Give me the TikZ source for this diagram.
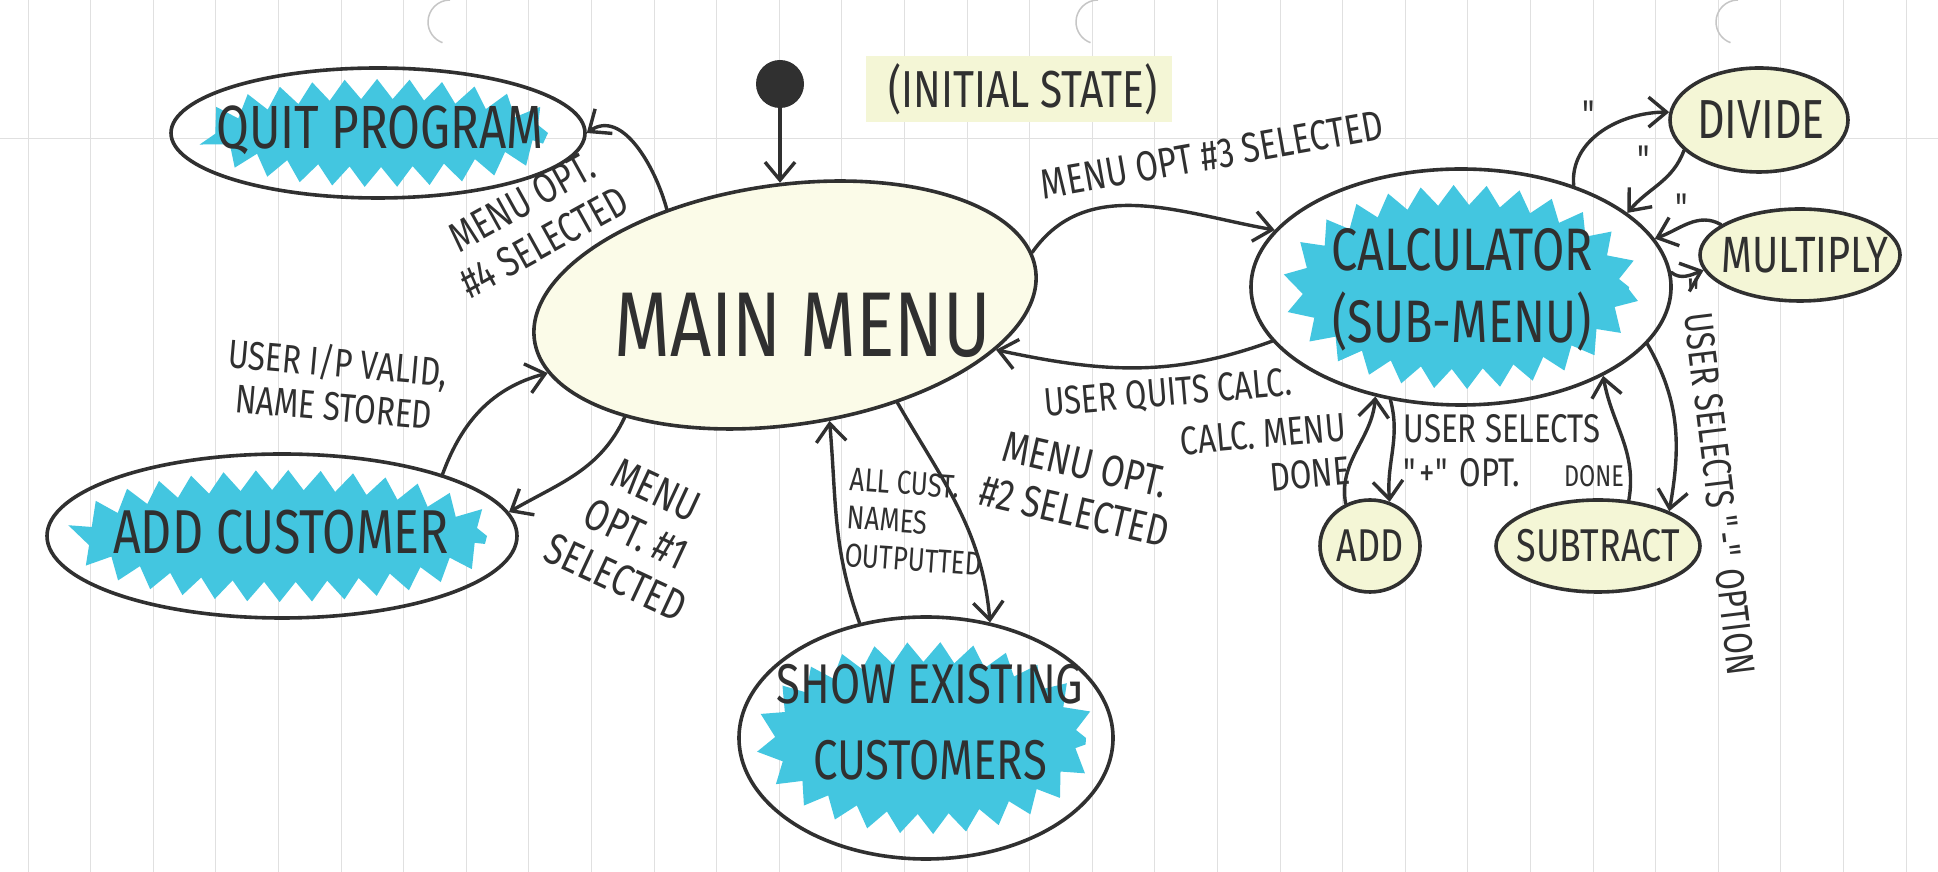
\documentclass[tikz,border=0pt]{standalone}
\usepackage{fontspec}
\newfontfamily\hand[FakeStretch=0.78]{Fira Sans}
\usetikzlibrary{arrows.meta,shapes.geometric,decorations.pathmorphing}
\definecolor{ink}{HTML}{303030}
\definecolor{cyanmark}{HTML}{43C6E0}
\definecolor{yelmark}{HTML}{F4F6D6}
\definecolor{yelpale}{HTML}{FBFBE8}
\definecolor{rulecol}{HTML}{E0E0E0}
\pgfdeclarelayer{paper}\pgfdeclarelayer{bg}
\pgfsetlayers{paper,bg,main}
\begin{document}
\begin{tikzpicture}[x=1pt,y=1pt,
  state/.style={ellipse, draw=ink, line width=3.6pt, inner sep=0pt},
  txt/.style={text=ink, inner sep=0pt, align=center},
  lbl/.style={text=ink, inner sep=0pt, align=center, font=\hand\fontsize{40}{44}\selectfont},
  biglbl/.style={lbl, font=\hand\fontsize{44}{48}\selectfont},
  conn/.style={draw=ink, line width=3.4pt, line cap=round, -{Straight Barb[length=18pt,width=30pt]}},
  zig/.style={fill=cyanmark, decorate, decoration={zigzag, segment length=32pt, amplitude=10pt}}]
\useasboundingbox (0,0) rectangle (1938,872);
\begin{pgfonlayer}{paper}
  \fill[white] (0,0) rectangle (1938,872);
  \foreach \i in {0,...,30} {\draw[rulecol, line width=1pt] (28+62.6*\i,0) -- (28+62.6*\i,872);}
  \draw[rulecol, line width=1pt] (0,733) -- (1938,733);
  \foreach \hx in {450,1098,1738} {\draw[gray!45, line width=1.5pt] (\hx,872) arc[start angle=90, end angle=250, radius=22];}
\end{pgfonlayer}

% states
\node[circle, fill=ink, minimum size=48pt, inner sep=0pt] (init) at (780,788) {};
\node[state, fill=yelpale, minimum width=506pt, minimum height=240pt, rotate=8] (mm) at (785,567) {};
\node[state, minimum width=414pt, minimum height=130pt] (quit) at (378,739) {};
\node[state, minimum width=470pt, minimum height=164pt] (addc) at (282,336) {};
\node[state, minimum width=374pt, minimum height=242pt] (show) at (926,134) {};
\node[state, minimum width=420pt, minimum height=236pt] (calc) at (1461,585) {};
\node[state, fill=yelmark, minimum width=178pt, minimum height=104pt] (div) at (1759,752) {};
\node[state, fill=yelmark, minimum width=200pt, minimum height=92pt] (mul) at (1800,617) {};
\node[state, fill=yelmark, minimum width=100pt, minimum height=92pt] (add) at (1370,326) {};
\node[state, fill=yelmark, minimum width=204pt, minimum height=92pt] (sub) at (1598,326) {};

\begin{pgfonlayer}{bg}
  \fill[zig] (quit.center) ellipse[x radius=170, y radius=44];
  \fill[zig] (addc.center) ellipse[x radius=205, y radius=56];
  \fill[zig] (show.center) ellipse[x radius=160, y radius=86];
  \fill[zig] (calc.center) ellipse[x radius=168, y radius=92];
  \fill[yelmark] (866,750) rectangle (1172,816);
\end{pgfonlayer}

% state texts
\node[txt, font=\hand\fontsize{92}{96}\selectfont] (mmt) at (803,547) {MAIN MENU};
\node[txt, font=\hand\fontsize{61}{64}\selectfont] (quitt) at (380,742) {QUIT PROGRAM};
\node[txt, font=\hand\fontsize{62}{66}\selectfont] (addct) at (281,340) {ADD CUSTOMER};
\node[txt, font=\hand\fontsize{56}{76}\selectfont] (showt) at (930,150) {SHOW EXISTING\\CUSTOMERS};
\node[txt, font=\hand\fontsize{60}{72}\selectfont] (calct) at (1462,582) {CALCULATOR\\(SUB-MENU)};
\node[txt, font=\hand\fontsize{55}{60}\selectfont] (divt) at (1761,752) {DIVIDE};
\node[txt, font=\hand\fontsize{51}{56}\selectfont] (mult) at (1805,617) {MULTIPLY};
\node[txt, font=\hand\fontsize{46}{50}\selectfont] (addt) at (1370,326) {ADD};
\node[txt, font=\hand\fontsize{46}{50}\selectfont] (subt) at (1598,326) {SUBTRACT};
\node[txt, font=\hand\fontsize{52}{56}\selectfont] (initt) at (1023,783) {(INITIAL STATE)};

% connectors
\draw[conn] (init.south) -- (init.south |- mm.84);
\draw[conn] (mm.133) to[out=105,in=35] (quit.east);
\draw[conn] (addc.21) to[out=70,in=195] (mm.188);
\draw[conn] (mm.207) to[out=245,in=30] (addc.6);
\draw[conn] (show.120) to[out=110,in=-85] (mm.-77);
\draw[conn] (mm.-49) to[out=-60,in=95] (show.61);
\draw[conn] (mm.4) to[out=55,in=170] (calc.163);
\draw[conn] (calc.196) to[out=200,in=-12] (mm.-20);
\draw[conn] (calc.238) to[out=-75,in=95] (add.66);
\draw[conn] (add.120) to[out=100,in=-95] (calc.232);
\draw[conn] (sub.56) to[out=80,in=-80] (calc.-32);
\draw[conn] (calc.-17) to[out=-60,in=80] (sub.26);
\draw[conn] (calc.42) to[out=95,in=180] (div.175);
\draw[conn] (div.202) to[out=250,in=50] (calc.24);
\draw[conn] (mul.159) to[out=150,in=20] (calc.14);
\draw[conn] (calc.4) to[out=-40,in=200] (mul.189);

% edge labels
\node[lbl, rotate=29, font=\hand\fontsize{42}{46}\selectfont] (l4) at (533,650) {MENU OPT.\\\#4 SELECTED};
\node[lbl, rotate=-5] (lv) at (336,489) {USER I/P VALID,\\NAME STORED};
\node[biglbl, rotate=-25] (l1) at (636,338) {MENU\\OPT. \#1\\SELECTED};
\node[lbl, rotate=-4, align=left, font=\hand\fontsize{33}{38}\selectfont] (lo) at (916,350) {ALL CUST.\\NAMES\\OUTPUTTED};
\node[biglbl, rotate=-13] (l2) at (1080,384) {MENU OPT.\\\#2 SELECTED};
\node[lbl, rotate=10, font=\hand\fontsize{42}{46}\selectfont] (l3) at (1212,717) {MENU OPT \#3 SELECTED};
\node[lbl, rotate=5] (lq) at (1168,478) {USER QUITS CALC.};
\node[lbl, rotate=5, align=right] (lcd) at (1265,416) {CALC. MENU\\DONE};
\node[lbl, align=left] (lplus) at (1502,421) {USER SELECTS\\\textquotedbl+\textquotedbl\ OPT.};
\node[lbl, font=\hand\fontsize{30}{34}\selectfont] (ld) at (1594,396) {DONE};
\node[lbl, rotate=-83] (lminus) at (1720,378) {USER SELECTS \textquotedbl-\textquotedbl\ OPTION};
\node[lbl] (q1) at (1590,757) {\textquotedbl};
\node[lbl] (q2) at (1645,712) {\textquotedbl};
\node[lbl] (q3) at (1683,664) {\textquotedbl};
\node[lbl] (q4) at (1695,579) {\textquotedbl};
\end{tikzpicture}
\end{document}
